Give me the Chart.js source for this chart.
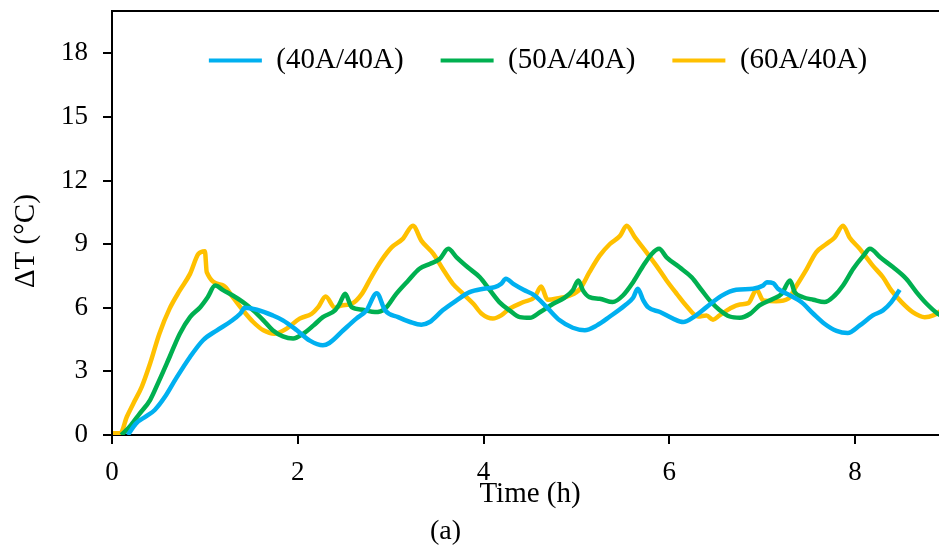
<!DOCTYPE html>
<html>
<head>
<meta charset="utf-8">
<script src="https://cdn.jsdelivr.net/npm/chart.js@4.4.1/dist/chart.umd.min.js"></script>
<style>
  html, body { margin: 0; padding: 0; overflow: hidden; background: #fff; }
  #wrap { position: absolute; left: 0; top: 0; width: 960px; height: 547px; }
  #cap { position: absolute; left: 430px; top: 514px; font-family: "Liberation Serif", "Times New Roman", serif; font-size: 28px; color: #000; }
</style>
</head>
<body>
<div id="wrap"><canvas id="c" width="960" height="547"></canvas></div>
<div id="cap">(a)</div>
<script>
const seriesLabels = ['(40A/40A)', '(50A/40A)', '(60A/40A)'];
const seriesColors = ['#00B0F0', '#00B050', '#FFC000'];
const xTitle = 'Time (h)';
const yTitle = '\u0394T (\u00B0C)';

const time40 = [0.17,0.26,0.37,0.46,0.57,0.69,0.84,0.98,1.13,1.27,1.38,1.43,1.56,1.73,1.84,1.99,2.13,2.27,2.34,2.49,2.63,2.74,2.85,2.94,3.08,3.21,3.33,3.42,3.56,3.71,3.85,4.00,4.12,4.19,4.24,4.32,4.43,4.55,4.68,4.82,4.96,5.09,5.22,5.36,5.52,5.61,5.66,5.72,5.77,5.90,6.04,6.15,6.26,6.40,6.56,6.72,6.90,7.01,7.05,7.12,7.17,7.30,7.42,7.55,7.67,7.80,7.92,8.05,8.19,8.30,8.39,8.48];
const dT40   = [0,0.55,0.89,1.18,1.80,2.67,3.68,4.47,4.94,5.33,5.72,6.00,5.91,5.64,5.41,4.94,4.45,4.23,4.34,4.94,5.49,5.88,6.69,5.88,5.56,5.33,5.20,5.33,5.88,6.35,6.74,6.90,6.97,7.13,7.37,7.13,6.85,6.58,6.03,5.41,5.06,4.94,5.17,5.59,6.11,6.47,6.90,6.35,6.03,5.80,5.49,5.33,5.56,6.03,6.56,6.85,6.90,7.05,7.21,7.16,6.90,6.58,6.27,5.72,5.25,4.91,4.81,5.17,5.64,5.88,6.27,6.85];

const time50 = [0.10,0.19,0.30,0.41,0.51,0.62,0.73,0.84,0.95,1.03,1.11,1.20,1.30,1.41,1.52,1.63,1.73,1.84,1.95,2.06,2.17,2.27,2.40,2.45,2.51,2.58,2.70,2.83,2.94,3.06,3.19,3.31,3.42,3.53,3.62,3.71,3.83,3.96,4.07,4.17,4.28,4.39,4.50,4.61,4.75,4.87,4.96,5.02,5.07,5.14,5.25,5.39,5.50,5.61,5.72,5.81,5.89,5.97,6.11,6.24,6.35,6.45,6.54,6.65,6.76,6.87,6.97,7.12,7.21,7.30,7.35,7.44,7.55,7.67,7.78,7.87,7.98,8.09,8.16,8.27,8.41,8.55,8.66,8.77,8.89,8.98];
const dT50   = [0,0.39,1.02,1.65,2.59,3.68,4.78,5.56,6.03,6.50,7.05,6.82,6.58,6.27,5.88,5.41,4.94,4.65,4.55,4.78,5.17,5.56,5.88,6.19,6.66,6.03,5.91,5.80,5.96,6.66,7.29,7.84,8.07,8.31,8.78,8.38,7.91,7.44,6.82,6.27,5.88,5.56,5.53,5.80,6.19,6.47,6.82,7.29,6.82,6.50,6.43,6.27,6.58,7.21,7.99,8.54,8.78,8.38,7.91,7.44,6.82,6.27,5.90,5.59,5.53,5.72,6.11,6.43,6.66,7.29,6.74,6.50,6.38,6.27,6.58,7.05,7.84,8.46,8.78,8.38,7.91,7.37,6.74,6.19,5.72,5.50];

const time60 = [0,0.09,0.16,0.23,0.32,0.41,0.51,0.62,0.73,0.84,0.93,1.00,1.02,1.20,1.30,1.41,1.52,1.63,1.75,1.88,2.02,2.15,2.22,2.30,2.40,2.47,2.58,2.69,2.79,2.90,3.01,3.13,3.24,3.33,3.46,3.56,3.67,3.78,3.89,3.98,4.10,4.19,4.28,4.43,4.55,4.62,4.69,4.82,4.93,5.04,5.14,5.25,5.36,5.47,5.54,5.63,5.74,5.86,5.97,6.08,6.18,6.31,6.40,6.47,6.54,6.65,6.76,6.85,6.94,7.01,7.15,7.28,7.37,7.48,7.58,7.69,7.78,7.87,7.94,8.05,8.19,8.30,8.39,8.50,8.62,8.75,8.84,8.92];
const dT60   = [0.08,0.08,0.86,1.49,2.27,3.37,4.78,5.96,6.82,7.60,8.54,8.67,7.68,7.05,6.50,5.88,5.33,4.94,4.78,5.02,5.49,5.72,6.03,6.53,6.00,6.11,6.19,6.66,7.44,8.23,8.85,9.25,9.87,9.17,8.54,7.84,7.13,6.66,6.19,5.72,5.49,5.64,5.96,6.27,6.50,7.00,6.38,6.47,6.58,6.90,7.68,8.46,9.01,9.40,9.87,9.32,8.70,7.99,7.29,6.66,6.11,5.59,5.64,5.44,5.64,5.96,6.16,6.22,6.85,6.35,6.31,6.43,7.05,7.84,8.62,9.01,9.32,9.87,9.32,8.78,7.99,7.44,6.82,6.27,5.80,5.56,5.64,5.85];

const seriesTimes = [time40, time50, time60];
const seriesValues = [dT40, dT50, dT60];

const serif = '"Liberation Serif", "Times New Roman", serif';

const datasets = seriesLabels.map((label, i) => ({
  label,
  data: seriesTimes[i].map((t, k) => ({ x: t, y: seriesValues[i][k] })),
  borderColor: seriesColors[i],
  backgroundColor: seriesColors[i],
  borderWidth: 4.5,
  pointRadius: 0,
  cubicInterpolationMode: 'monotone',
  fill: false
}));

const frame = {
  id: 'frame',
  beforeLayout(chart) {
    if (chart.legend) chart.legend.isHorizontal = () => true;
  },
  afterLayout(chart) {
    const lg = chart.legend;
    if (lg) {
      const dx = chart.chartArea.left + 8;
      lg.top -= 2; lg.bottom -= 2;
      lg.left += dx; lg.right += dx;
    }
  },
  afterDraw(chart) {
    const { ctx, chartArea: a } = chart;
    ctx.save();
    ctx.strokeStyle = '#000';
    ctx.lineWidth = 2;
    ctx.beginPath();
    ctx.moveTo(a.left, a.bottom);
    ctx.lineTo(a.left, a.top);
    ctx.lineTo(a.right, a.top);
    ctx.lineTo(a.right, a.bottom);
    ctx.stroke();
    ctx.restore();
  }
};

new Chart(document.getElementById('c'), {
  type: 'line',
  data: { datasets },
  plugins: [frame],
  options: {
    responsive: false,
    animation: false,
    layout: { padding: { left: 0, top: 11, right: 12, bottom: 0 } },
    plugins: {
      tooltip: { enabled: false },
      legend: {
        position: 'chartArea',
        align: 'center',
        labels: {
          font: { family: serif, size: 29 },
          color: '#000',
          boxWidth: 53,
          boxHeight: 4,
          padding: 37,
          generateLabels(chart) {
            const items = Chart.defaults.plugins.legend.labels.generateLabels(chart);
            items.forEach(it => { it.lineWidth = 0; });
            return items;
          }
        }
      }
    },
    scales: {
      x: {
        type: 'linear',
        min: 0, max: 9,
        afterFit(s) { s.height = 112; s.paddingLeft = 0; s.paddingRight = 0; },
        ticks: { stepSize: 2, includeBounds: false, font: { family: serif, size: 27 }, color: '#000', padding: 13, maxRotation: 0 },
        grid: { drawOnChartArea: false, drawTicks: true, tickLength: 9, color: '#000', lineWidth: 2 },
        border: { color: '#000', width: 2 },
        title: { display: true, text: xTitle, font: { family: serif, size: 29 }, color: '#000', padding: { top: 0, bottom: 35 } }
      },
      y: {
        min: 0, max: 20,
        afterFit(s) { s.width = 112; s.paddingTop = 0; s.paddingBottom = 0; },
        ticks: { stepSize: 3, includeBounds: false, font: { family: serif, size: 27 }, color: '#000', padding: 15 },
        grid: { drawOnChartArea: false, drawTicks: true, tickLength: 9, color: '#000', lineWidth: 2 },
        border: { color: '#000', width: 2 },
        title: { display: true, text: yTitle + '\u00A0\u00A0\u00A0\u00A0\u00A0', font: { family: serif, size: 29 }, color: '#000', padding: { top: 9, bottom: 0 } }
      }
    }
  }
});
</script>
</body>
</html>
